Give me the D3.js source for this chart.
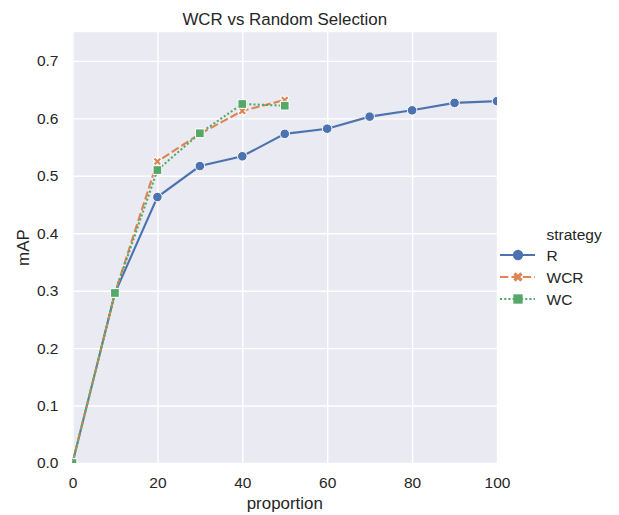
<!DOCTYPE html>
<html><head><meta charset="utf-8">
<script src="https://cdn.jsdelivr.net/npm/d3@7"></script>
<style>body{margin:0;background:#fff}svg{display:block}text{font-family:"Liberation Sans",Arial,sans-serif;fill:#262626}</style>
</head><body><svg id="c" width="619" height="515"></svg>
<script>
const proportions = [0,10,20,30,40,50,60,70,80,90,100];
const valuesR   = [0.0,0.296,0.463,0.517,0.534,0.573,0.582,0.603,0.614,0.627,0.630];
const valuesWCR = [0.0,0.296,0.525,0.573,0.613,0.632];
const valuesWC  = [0.0,0.296,0.510,0.574,0.625,0.622];
const seriesNames = ["R","WCR","WC"];
const colors = ["#4c72b0","#dd8452","#55a868"];
const xTicks = [0,20,40,60,80,100];
const yTicks = [0.0,0.1,0.2,0.3,0.4,0.5,0.6,0.7];

const series = [valuesR,valuesWCR,valuesWC].map((vals,i)=>({name:seriesNames[i],color:colors[i],
  pts:vals.map((v,j)=>({x:proportions[j],y:v}))}));
const dashes = [null,"8.3,3.1","2.1,2.1"];

const svg = d3.select("#c");
const L=72.5,R=497,T=32.2,B=463;
const x = d3.scaleLinear().domain([0,100]).range([L,R]);
const y = d3.scaleLinear().domain([0,0.75]).range([B,T]);

svg.append("rect").attr("x",L).attr("y",T).attr("width",R-L).attr("height",B-T).attr("fill","#eaeaf2");
svg.append("defs").append("clipPath").attr("id","clip").append("rect").attr("x",L).attr("y",T).attr("width",R-L).attr("height",B-T);

const gx = svg.append("g").attr("transform",`translate(0,${B})`)
  .call(d3.axisBottom(x).tickValues(xTicks).tickSize(-(B-T)).tickPadding(13.5).tickFormat(d3.format("d")));
const gy = svg.append("g").attr("transform",`translate(${L},0)`)
  .call(d3.axisLeft(y).tickValues(yTicks).tickSize(-(R-L)).tickPadding(14).tickFormat(d3.format(".1f")));
[gx,gy].forEach(g=>{
  g.select(".domain").remove();
  g.selectAll(".tick line").attr("stroke","#fff").attr("stroke-width",1.4);
  g.selectAll(".tick text").attr("font-size","15.5px").attr("fill","#262626");
});

const plot = svg.append("g").attr("clip-path","url(#clip)");
const line = d3.line().x(d=>x(d.x)).y(d=>y(d.y));
const symbols = [d3.symbolCircle, d3.symbolCross, d3.symbolSquare];
const symSizes = [72, 48, 76];
series.forEach((s,i)=>{
  plot.append("path").datum(s.pts).attr("d",line).attr("fill","none").attr("stroke",s.color)
    .attr("stroke-width",2.1).attr("stroke-dasharray",dashes[i]);
});
series.forEach((s,i)=>{
  plot.selectAll(null).data(s.pts).enter().append("path")
    .attr("d",d3.symbol().type(symbols[i]).size(symSizes[i]))
    .attr("transform",d=>`translate(${x(d.x)},${y(d.y)})`+(i===1?" rotate(45)":""))
    .attr("fill",s.color).attr("stroke","#fff").attr("stroke-width",1);
});

svg.append("text").attr("x",(L+R)/2).attr("y",25).attr("text-anchor","middle").attr("font-size","16.9px").text("WCR vs Random Selection");
svg.append("text").attr("x",(L+R)/2).attr("y",509).attr("text-anchor","middle").attr("font-size","16.9px").text("proportion");
svg.append("text").attr("transform",`translate(29,${(T+B)/2}) rotate(-90)`).attr("text-anchor","middle").attr("font-size","16.9px").text("mAP");

const lg = svg.append("g");
lg.append("text").attr("x",546.5).attr("y",239.5).attr("font-size","15.5px").text("strategy");
series.forEach((s,i)=>{
  const yy = 255 + i*22;
  lg.append("line").attr("x1",500).attr("x2",535).attr("y1",yy).attr("y2",yy).attr("stroke",s.color)
    .attr("stroke-width",2.1).attr("stroke-dasharray",dashes[i]);
  lg.append("path").attr("d",d3.symbol().type(symbols[i]).size(symSizes[i]*1.15))
    .attr("transform",`translate(518,${yy})`+(i===1?" rotate(45)":"")).attr("fill",s.color);
  lg.append("text").attr("x",546.5).attr("y",yy+5.5).attr("font-size","15.5px").text(s.name);
});
</script></body></html>
